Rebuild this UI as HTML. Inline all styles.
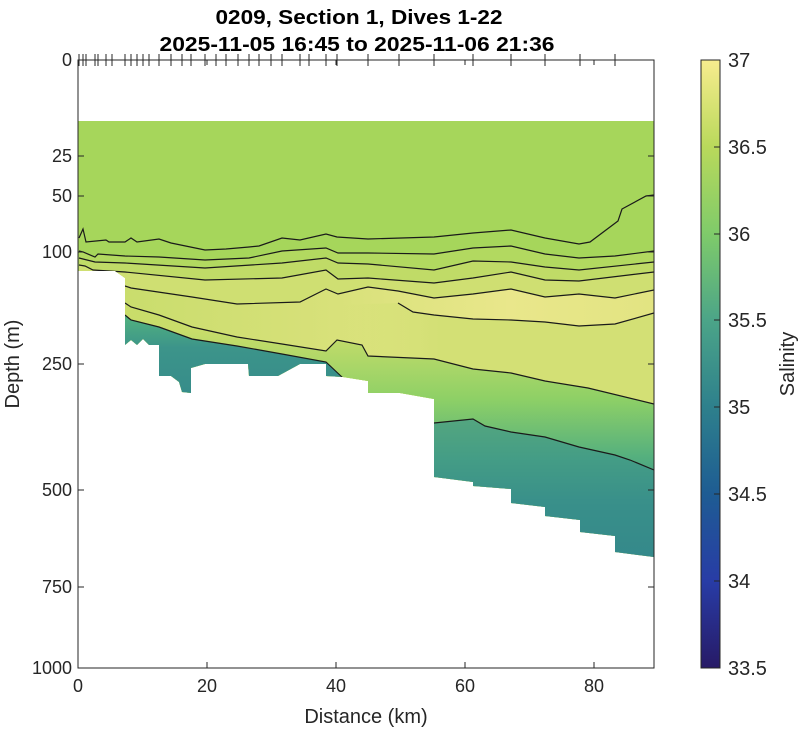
<!DOCTYPE html>
<html><head><meta charset="utf-8"><style>body{margin:0;background:#fff}svg{display:block}</style></head><body>
<svg width="800" height="729" xmlns="http://www.w3.org/2000/svg" font-family="Liberation Sans, sans-serif">
<defs>
<clipPath id="dc"><path d="M78,121 L654,121 L654,557 L615,552 L615,536 L580,532 L580,520 L545,516 L545,507 L511,503 L511,489 L473,486 L473,482 L434,477 L434,399 L400,393 L368,393 L368,381 L343,377 L326,376 L326,364 L300,364 L278,376 L249,376 L248,364 L205,364 L191,368 L191,393 L182,392 L179,382 L171,376 L159,376 L159,345 L149,345 L143,339 L137,345 L131,340 L125,345 L125,278 L115,271 L78,271 Z"/></clipPath>
<linearGradient id="deep" x1="0" y1="330" x2="0" y2="560" gradientUnits="userSpaceOnUse">
<stop offset="0" stop-color="#c9dd6a"/><stop offset="0.3" stop-color="#8ed066"/><stop offset="0.55" stop-color="#55b07e"/><stop offset="0.75" stop-color="#378e8a"/><stop offset="1" stop-color="#2d7c8c"/></linearGradient>
<linearGradient id="deepL" x1="0" y1="320" x2="0" y2="390" gradientUnits="userSpaceOnUse">
<stop offset="0" stop-color="#4fae80"/><stop offset="0.4" stop-color="#3c948a"/><stop offset="1" stop-color="#378d8a"/></linearGradient>
<linearGradient id="core" x1="78" y1="0" x2="654" y2="0" gradientUnits="userSpaceOnUse">
<stop offset="0" stop-color="#c6dc6a"/><stop offset="0.45" stop-color="#d8e17a"/><stop offset="0.75" stop-color="#e9e78b"/><stop offset="1" stop-color="#e2e482"/></linearGradient>
<linearGradient id="fadeR" x1="340" y1="0" x2="440" y2="0" gradientUnits="userSpaceOnUse">
<stop offset="0" stop-color="#d3e075" stop-opacity="0"/><stop offset="1" stop-color="#d3e075" stop-opacity="1"/></linearGradient>
<linearGradient id="cb" x1="0" y1="60" x2="0" y2="668" gradientUnits="userSpaceOnUse">
<stop offset="0" stop-color="#f7ec8e"/><stop offset="0.143" stop-color="#b9d95b"/><stop offset="0.286" stop-color="#7fcb6a"/><stop offset="0.429" stop-color="#4ba488"/><stop offset="0.571" stop-color="#2e808c"/><stop offset="0.714" stop-color="#1e5c93"/><stop offset="0.857" stop-color="#283ca6"/><stop offset="1" stop-color="#271a66"/></linearGradient>
</defs>
<g clip-path="url(#dc)">
<rect x="78" y="121" width="576" height="460" fill="#a6d65b"/>
<path fill="#b2d960" d="M79,251 L83,252 L95,257 L98,254 L125,256 L159,257 L205,260 L249,258 L282,251 L326,248 L338,253 L368,253 L434,254 L473,248 L511,246 L545,254 L579,258 L615,256 L654,251 L654,700 L78,700 Z"/>
<path fill="#c0db67" d="M79,258 L95,262 L125,263 L205,268 L282,263 L326,258 L338,263 L368,264 L434,270 L473,261 L511,262 L545,267 L579,270 L654,262 L654,700 L78,700 Z"/>
<path fill="#cfdf72" d="M79,265 L85,266 L93,270 L125,272 L205,280 L282,278 L326,270 L338,279 L368,278 L434,283 L473,278 L511,272 L545,280 L579,281 L654,272 L654,700 L78,700 Z"/>
<path fill="url(#core)" d="M78,286 L131,288 L192,297 L237,304 L300,302 L326,289 L338,294 L368,287 L398,291 L434,298 L473,294 L511,289 L545,297 L579,294 L615,298 L654,290 L654,700 L78,700 Z"/>
<path fill="url(#fadeR)" d="M340,305 L398,303 L413,312 L434,315 L473,319 L511,320 L545,322 L579,326 L615,324 L654,313 L654,700 L340,700 Z"/>
<path fill="url(#deep)" d="M78,303 L131,307 L159,315 L192,327 L237,337 L282,344 L326,351 L337,340 L362,345 L368,356 L434,359 L473,369 L511,373 L545,381 L588,388 L654,404 L654,700 L78,700 Z"/>
<path fill="url(#deepL)" d="M78,315 L125,315 L131,320 L159,327 L192,339 L237,346 L282,354 L326,362 L343,378 L343,700 L78,700 Z"/>
<path fill="#3a918a" opacity="0.6" d="M434,423 L473,419 L485,426 L511,432 L545,437 L579,447 L615,455 L654,470 L654,700 L434,700 Z"/>
<g fill="none" stroke="#1a1a1a" stroke-width="1.2">
<polyline points="79,238 83,229 86,242 106,240 109,242 125,242 131,238 137,242 159,239 171,243 205,250 226,249 249,247 259,246 282,238 300,240 326,234 337,237 368,239 434,237 473,233 511,230 545,238 579,244 590,242 618,221 622,209 646,196 654,195"/>
<polyline points="79,251 83,252 95,257 98,254 125,256 159,257 205,260 249,258 282,251 326,248 338,253 368,253 434,254 473,248 511,246 545,254 579,258 615,256 654,251"/>
<polyline points="79,258 95,262 125,263 205,268 282,263 326,258 338,263 368,264 434,270 473,261 511,262 545,267 579,270 654,262"/>
<polyline points="79,265 85,266 93,270 125,272 205,280 282,278 326,270 338,279 368,278 434,283 473,278 511,272 545,280 579,281 654,272"/>
<polyline points="125,286 131,288 192,297 237,304 300,302 326,289 338,294 368,287 398,291 434,298 473,294 511,289 545,297 579,294 615,298 654,290"/>
<polyline points="125,303 131,307 159,315 192,327 237,337 282,344 326,351 337,340 362,345 368,356 434,359 473,369 511,373 545,381 588,388 654,404"/>
<polyline points="125,315 131,320 159,327 192,339 237,346 282,354 326,362 343,378"/>
<polyline points="398,303 413,312 434,315 473,319 511,320 545,322 579,326 615,324 654,313"/>
<polyline points="434,423 473,419 485,426 511,432 545,437 579,447 615,455 630,460 654,470"/>
</g>
</g>
<g stroke="#262626" stroke-width="1" fill="none">
<rect x="78" y="60" width="576" height="608"/>
<path d="M78,156h6M78,196h6M78,252h6M78,364h6M78,490h6M78,587h6M654,156h-6M654,196h-6M654,252h-6M654,364h-6M654,490h-6M654,587h-6M207,668v-6M336,668v-6M465,668v-6M594,668v-6M207,60v5M336,60v5M465,60v5M594,60v5"/>
<path d="M79,54v12M83,54v12M86,54v12M95,54v12M98,54v12M106,54v12M112,54v12M125,54v12M131,54v12M137,54v12M143,54v12M149,54v12M159,54v12M171,54v12M182,54v12M191,54v12M205,54v12M216,54v12M226,54v12M238,54v12M249,54v12M259,54v12M271,54v12M282,54v12M300,54v12M309,54v12M326,54v12M337,54v12M368,54v12M399,54v12M434,54v12M473,54v12M511,54v12M545,54v12M580,54v12M615,54v12"/>
</g>
<g font-size="18" fill="#262626">
<g text-anchor="end"><text x="72" y="66">0</text><text x="72" y="162">25</text><text x="72" y="202">50</text><text x="72" y="258">100</text><text x="72" y="370">250</text><text x="72" y="496">500</text><text x="72" y="593">750</text><text x="72" y="674">1000</text></g>
<g text-anchor="middle"><text x="78" y="692">0</text><text x="207" y="692">20</text><text x="336" y="692">40</text><text x="465" y="692">60</text><text x="594" y="692">80</text></g>
<text x="366" y="723" text-anchor="middle" font-size="20">Distance (km)</text>
<text transform="translate(19,364) rotate(-90)" text-anchor="middle" font-size="20">Depth (m)</text>
</g>
<g font-weight="bold" font-size="20" fill="#000" text-anchor="middle">
<text x="359" y="24" textLength="287" lengthAdjust="spacingAndGlyphs">0209, Section 1, Dives 1-22</text>
<text x="357" y="51" textLength="395" lengthAdjust="spacingAndGlyphs">2025-11-05 16:45 to 2025-11-06 21:36</text>
</g>
<rect x="701" y="60" width="19" height="608" fill="url(#cb)" stroke="#262626" stroke-width="1"/>
<path stroke="#262626" d="M714,147h6M714,234h6M714,320h6M714,407h6M714,494h6M714,581h6"/>
<g font-size="20" fill="#262626">
<text x="728" y="67">37</text><text x="728" y="154">36.5</text><text x="728" y="241">36</text><text x="728" y="327">35.5</text><text x="728" y="414">35</text><text x="728" y="501">34.5</text><text x="728" y="588">34</text><text x="728" y="675">33.5</text>
<text transform="translate(794,364) rotate(-90)" text-anchor="middle">Salinity</text>
</g>
</svg>
</body></html>
